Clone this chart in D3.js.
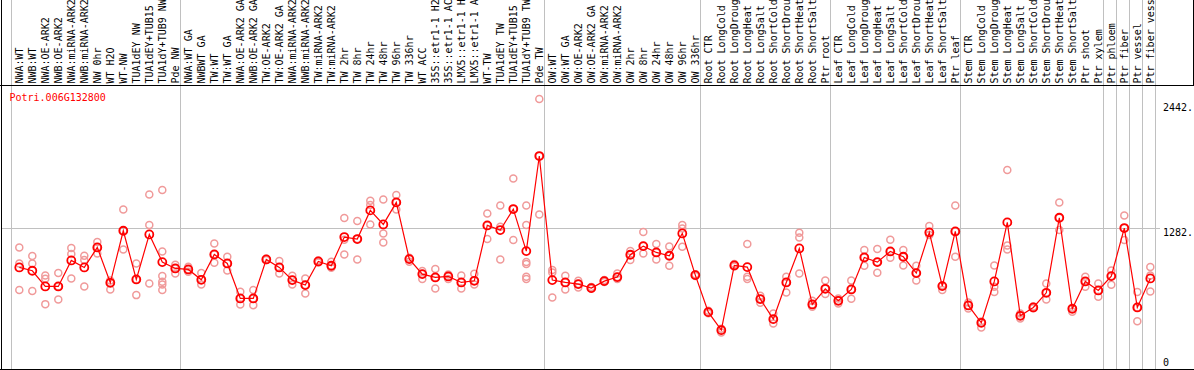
<!DOCTYPE html>
<html>
<head>
<meta charset="utf-8">
<script src="https://cdn.jsdelivr.net/npm/d3@7"></script>
<style>
  html, body { margin: 0; padding: 0; background: #fff; }
  svg { display: block; }
  text { font-family: "DejaVu Sans Mono", "Liberation Mono", monospace; font-size: 10px; }
</style>
</head>
<body>
<svg id="chart" width="1194" height="370"></svg>
<script>
const geneId = "Potri.006G132800";

const samples = [
  "NWA:WT","NWB:WT","NWA:OE-ARK2","NWB:OE-ARK2","NWA:miRNA-ARK2","NWB:miRNA-ARK2","NW 0hr","WT H2O","WT-NW",
  "TUA1dEY NW","TUA1dEY+TUB15","TUA1dY+TUB9 NW","Pde NW",
  "NWA:WT GA","NWBWT GA","TW:WT","TW:WT GA","NWA:OE-ARK2 GA","NWB:OE-ARK2 GA","TW:OE-ARK2","TW:OE-ARK2 GA",
  "NWA:miRNA-ARK2","NWB:miRNA-ARK2","TW:miRNA-ARK2","TW:miRNA-ARK2","TW 2hr","TW 8hr","TW 24hr","TW 48hr","TW 96hr",
  "TW 336hr","WT ACC","35S::etr1-1 H2","35S::etr1-1 AC","LMX5::etr1-1 H","LMX5::etr1-1 A","WT-TW","TUA1dEY TW",
  "TUA1dEY+TUB15","TUA1dY+TUB9 TW","Pde TW",
  "OW:WT","OW:WT GA","OW:OE-ARK2","OW:OE-ARK2 GA","OW:miRNA-ARK2","OW:miRNA-ARK2","OW 2hr","OW 8hr","OW 24hr",
  "OW 48hr","OW 96hr","OW 336hr",
  "Root CTR","Root LongCold","Root LongDroug","Root LongHeat","Root LongSalt","Root ShortCold","Root ShortDrou",
  "Root ShortHeat","Root ShortSalt","Ptr root",
  "Leaf CTR","Leaf LongCold","Leaf LongDroug","Leaf LongHeat","Leaf LongSalt","Leaf ShortCold","Leaf ShortDrou",
  "Leaf ShortHeat","Leaf ShortSalt","Ptr leaf",
  "Stem CTR","Stem LongCold","Stem LongDroug","Stem LongHeat","Stem LongSalt","Stem ShortCold","Stem ShortDrou",
  "Stem ShortHeat","Stem ShortSalt","Ptr shoot","Ptr xylem",
  "Ptr phloem","Ptr fiber","Ptr vessel","Ptr fiber vess"
];

const meanExpression = [
  927, 897, 756, 756, 990, 927, 1107, 789, 1257, 819, 1224, 975, 918,
  909, 816, 1044, 963, 648, 648, 999, 927, 813, 768, 981, 942, 1200, 1182, 1440, 1314, 1512,
  1002, 867, 837, 846, 792, 807, 1305, 1263, 1452, 1074, 1929,
  813, 792, 777, 741, 804, 840, 1041, 1119, 1062, 1032, 1233, 858,
  525, 363, 945, 930, 642, 462, 792, 1098, 594, 735,
  627, 729, 1017, 975, 1071, 1023, 876, 1242, 759, 1251,
  585, 429, 801, 1332, 492, 567, 699, 1374, 555, 801, 720,
  849, 1281, 567, 828
];

const replicateExpression = [
  [1107, 963, 723], [1029, 963, 714], [855, 825, 597], [876, 756, 639], [1101, 1047, 828],
  [1032, 993, 756], [1155, 1053, 1107], [810, 729, 789], [1449, 1089, 1257], [963, 678, 819],
  [1584, 1308, 783], [1623, 1071, 849, 798, 774, 723], [951, 873, 918],
  [933, 888, 909], [876, 774, 816], [1143, 969, 1044], [1023, 900, 963], [708, 594, 648],
  [723, 588, 648], [999, 1005, 993], [984, 873, 927], [852, 774, 813], [828, 693, 768],
  [990, 972, 981], [978, 924, 942], [1371, 1176, 1044], [1344, 999, 1182], [1527, 1488, 1314],
  [1539, 1233, 1152], [1578, 1449, 1512], [978, 1014, 1002], [894, 822, 867], [912, 738, 837],
  [864, 822, 846], [855, 738, 792], [870, 774, 807], [1413, 1182, 1305], [1485, 1293, 999],
  [1728, 1173, 1452], [1485, 1308, 975, 957, 843, 822], [2442, 1404, 1929],
  [903, 882, 657], [852, 729, 792], [807, 747, 777], [735, 741, 750], [815, 795, 804],
  [873, 822, 840], [1074, 993, 1041], [1245, 1053, 1119], [1137, 999, 1062], [1116, 942, 1032],
  [1308, 1278, 1113], [858, 865, 850],
  [537, 525, 515], [342, 363, 375], [957, 945, 935], [1137, 843, 822], [672, 609, 642],
  [513, 423, 462], [843, 702, 792], [1239, 1197, 873], [627, 573, 594], [810, 687, 735],
  [648, 603, 627], [810, 645, 729], [1083, 942, 1017], [1092, 879, 975], [1176, 1014, 1071],
  [1083, 945, 1023], [942, 810, 876], [1299, 1218, 1242], [723, 759, 765], [1485, 1023, 1251],
  [612, 558, 585], [387, 429, 440], [945, 753, 705], [1803, 1125, 1089], [513, 468, 492],
  [575, 560, 567], [783, 639, 699], [1512, 1263, 1374], [528, 555, 565], [843, 753, 801],
  [783, 663, 720], [900, 771, 849], [1395, 1173, 1281], [705, 444, 567], [930, 855, 711]
];

// index of the last sample in each group (a grey separator follows it)
const groupEnds = [-1, 12, 40, 52, 62, 72, 83, 84, 85, 86, 87];
const axisTicks = [0, 1282, 2442];
const axisTickLabels = ["0", "1282.", "2442."];
const gridValues = [1282];

const svg = d3.select("#chart");
const W = 1194, H = 370;

const x = d3.scaleLinear().domain([0, samples.length - 1]).range([19.3, 1150.3]);
const y = d3.scaleLinear().domain([0, 2442]).range([370.5, 99]);

// grey group separators (full height)
svg.append("g").selectAll("line").data(groupEnds).join("line")
  .attr("x1", d => Math.round(x(d) + 5) + 0.5).attr("x2", d => Math.round(x(d) + 5) + 0.5)
  .attr("y1", 0).attr("y2", 369)
  .attr("stroke", "#c0c0c0").attr("stroke-width", 1);

// horizontal grid
svg.append("g").selectAll("line").data(gridValues).join("line")
  .attr("x1", 1).attr("x2", 1160)
  .attr("y1", d => Math.round(y(d)) + 0.5).attr("y2", d => Math.round(y(d)) + 0.5)
  .attr("stroke", "#c0c0c0").attr("stroke-width", 1);

// frame lines
svg.append("line").attr("x1", 0).attr("x2", 1194).attr("y1", 85.5).attr("y2", 85.5).attr("stroke", "#000");
svg.append("line").attr("x1", 0).attr("x2", 1194).attr("y1", 369.5).attr("y2", 369.5).attr("stroke", "#000");
svg.append("line").attr("x1", 1.5).attr("x2", 1.5).attr("y1", 0).attr("y2", 370).attr("stroke", "#000");
svg.append("line").attr("x1", 1193.5).attr("x2", 1193.5).attr("y1", 0).attr("y2", 85).attr("stroke", "#000");

// sample labels (rotated)
svg.append("g").selectAll("text").data(samples).join("text")
  .attr("transform", (d, i) => `translate(${x(i)},83.5) rotate(-90)`)
  .attr("dy", "0.36em")
  .attr("fill", "#000")
  .text(d => d);

// replicate points
const reps = [];
replicateExpression.forEach((arr, i) => arr.forEach(v => reps.push({ i, v })));
svg.append("g").selectAll("circle").data(reps).join("circle")
  .attr("cx", d => x(d.i)).attr("cy", d => y(d.v)).attr("r", 3.5)
  .attr("fill", "none").attr("stroke", "#f09a9a").attr("stroke-width", 1.5);

// mean line
const line = d3.line().x((d, i) => x(i)).y(d => y(d));
svg.append("path").datum(meanExpression).attr("d", line)
  .attr("fill", "none").attr("stroke", "#ff0000").attr("stroke-width", 1.2);

// mean points
svg.append("g").selectAll("circle").data(meanExpression).join("circle")
  .attr("cx", (d, i) => x(i)).attr("cy", d => y(d)).attr("r", 4)
  .attr("fill", "none").attr("stroke", "#ff0000").attr("stroke-width", 1.8);

// gene id
svg.append("text").attr("x", 9.5).attr("y", 100.5).attr("fill", "#ff0000").text(geneId);

// right axis labels
const labelOffsets = [-5, 8, 12];
svg.append("g").selectAll("text").data(axisTicks).join("text")
  .attr("x", 1163).attr("y", (d, i) => y(d) + labelOffsets[i])
  .attr("fill", "#000")
  .text((d, i) => axisTickLabels[i]);
</script>
</body>
</html>
